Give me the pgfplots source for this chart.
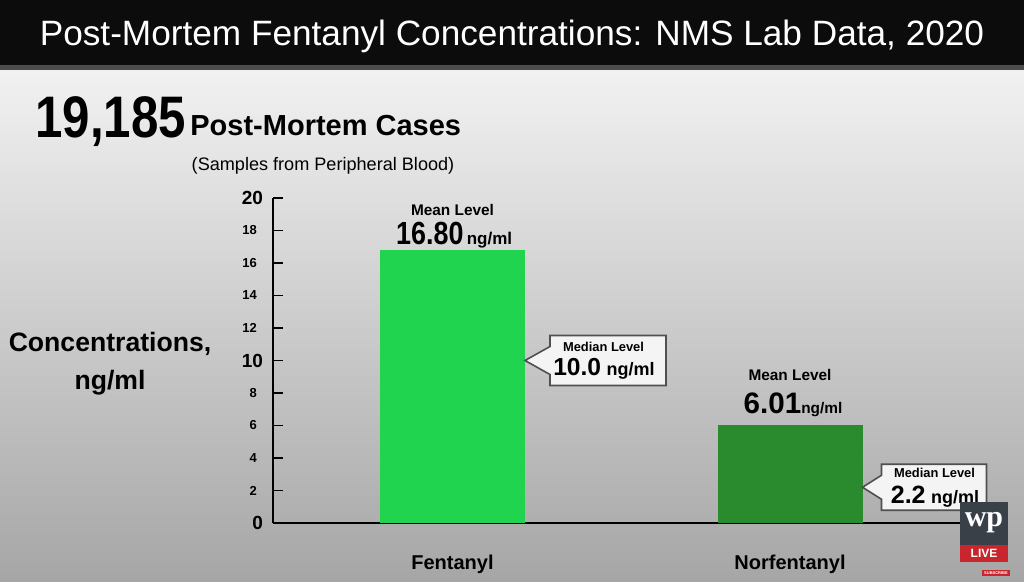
\documentclass[border=0pt]{standalone}
\usepackage{fontspec}
\setmainfont{Liberation Sans}
\newfontfamily\cond[FakeStretch=0.84]{Liberation Sans}
\newfontfamily\wpfont{Liberation Serif}
\usepackage{pgfplots}
\pgfplotsset{compat=1.18}
\definecolor{fentgreen}{RGB}{32,212,80}
\definecolor{norgreen}{RGB}{42,138,46}
\definecolor{bgtop}{RGB}{242,242,242}
\definecolor{bgmid}{RGB}{222,222,222}
\definecolor{bgbot}{RGB}{166,166,166}
\definecolor{titlebg}{RGB}{12,12,12}
\definecolor{boxfill}{RGB}{244,244,244}
\definecolor{boxdraw}{RGB}{80,80,80}
\definecolor{wpgray}{RGB}{58,64,72}
\definecolor{wpred}{RGB}{200,38,44}
\newcommand{\tsp}{\hspace*{3pt}}
\begin{document}
\begin{tikzpicture}
\begin{scope}[x=0.5pt,y=0.5pt]
  \shade[top color=bgtop, middle color=bgmid, bottom color=bgbot] (0,0) rectangle (1024,515);
  \fill[titlebg] (0,515) rectangle (1024,581);
  \fill[gray!60!black] (0,511) rectangle (1024,516);
  \node[white, font=\fontsize{17.6}{19}\selectfont] at (512,545) {Post-Mortem Fentanyl Concentrations: NMS Lab Data, 2020};
  \node[anchor=base west, inner sep=0pt, font=\cond\bfseries\fontsize{29.3}{30}\selectfont] at (35,444) {19,185};
  \node[anchor=base west, inner sep=0pt, font=\bfseries\fontsize{14.5}{16}\selectfont] at (190,446) {Post-Mortem Cases};
  \node[anchor=base, inner sep=0pt, font=\fontsize{9.05}{10}\selectfont] at (323,411) {(Samples from Peripheral Blood)};
  \node[align=center, inner sep=0pt, font=\bfseries\fontsize{13.3}{19}\selectfont] at (110,217) {Concentrations,\\ng/ml};
\end{scope}
\begin{axis}[
  at={(136.5pt,29pt)}, anchor=south west,
  scale only axis, width=366pt, height=162.5pt,
  xmin=-0.5319, xmax=1.637, ymin=0, ymax=20,
  axis lines=left,
  axis line style={line width=1.1pt, -},
  tick align=inside, major tick length=5pt,
  tick style={line width=0.9pt, black},
  ytick={0,2,...,20},
  yticklabels={{\fontsize{9.5}{10}\selectfont 0},2\tsp,4\tsp,6\tsp,8\tsp,{\fontsize{9.5}{10}\selectfont 10},12\tsp,14\tsp,16\tsp,18\tsp,{\fontsize{9.5}{10}\selectfont 20}},
  yticklabel style={font=\bfseries\fontsize{6.5}{7}\selectfont, xshift=-1.5pt},
  xtick={0,1}, xticklabels={Fentanyl,Norfentanyl},
  x tick style={draw=none},
  xticklabel style={font=\bfseries\fontsize{10}{12}\selectfont, yshift=-12.5pt},
  clip=false,
]
\addplot[ybar, bar width=72.5pt, bar shift=0pt, fill=fentgreen, draw=none] coordinates {(0,16.80)};
\addplot[ybar, bar width=72.5pt, bar shift=0pt, fill=norgreen, draw=none] coordinates {(1,6.01)};
\node[anchor=base, inner sep=0pt, font=\bfseries\fontsize{7.7}{8}\selectfont] at (axis cs:0,18.95) {Mean Level};
\node[anchor=base, inner sep=0pt, font=\bfseries] at (axis cs:0.005,17.11) {{\cond\fontsize{16}{16}\selectfont 16.80}\,{\fontsize{8.5}{9}\selectfont ng/ml}};
\node[anchor=base, inner sep=0pt, font=\bfseries\fontsize{7.7}{8}\selectfont] at (axis cs:1.0,8.8) {Mean Level};
\node[anchor=base, inner sep=0pt, font=\bfseries] at (axis cs:1.009,6.75) {{\fontsize{14.8}{15}\selectfont 6.01}{\fontsize{7.7}{8}\selectfont ng/ml}};
\coordinate (m1) at (axis cs:0.2148,10);
\coordinate (m2) at (axis cs:1.2148,2.2);
\end{axis}
\draw[fill=boxfill, draw=boxdraw, line width=0.8pt] (m1) -- ++(12.5pt,7pt) -- ++(0,5.5pt) -- ++(58pt,0) -- ++(0,-25pt) -- ++(-58pt,0) -- ++(0,5.5pt) -- cycle;
\node[anchor=base, inner sep=0pt, font=\bfseries\fontsize{6.45}{7}\selectfont] at ([xshift=39.25pt,yshift=4.65pt]m1) {Median Level};
\node[anchor=base, inner sep=0pt, font=\bfseries] at ([xshift=39.5pt,yshift=-7.35pt]m1) {{\fontsize{12.3}{13}\selectfont 10.0} {\fontsize{9}{9}\selectfont ng/ml}};
\draw[fill=boxfill, draw=boxdraw, line width=0.8pt] (m2) -- ++(9.5pt,6pt) -- ++(0,5.5pt) -- ++(52.5pt,0) -- ++(0,-23pt) -- ++(-52.5pt,0) -- ++(0,5.5pt) -- cycle;
\node[anchor=base, inner sep=0pt, font=\bfseries\fontsize{6.45}{7}\selectfont] at ([xshift=36pt,yshift=4.65pt]m2) {Median Level};
\node[anchor=base, inner sep=0pt, font=\bfseries] at ([xshift=36.25pt,yshift=-8.3pt]m2) {{\fontsize{12.5}{13}\selectfont 2.2} {\fontsize{9}{9}\selectfont ng/ml}};
\begin{scope}[x=0.5pt,y=0.5pt]
  \fill[wpgray] (960,36) rectangle (1008,79);
  \node[white, font=\wpfont\bfseries\fontsize{15}{15}\selectfont] at (984,58) {wp};
  \fill[wpred] (960,19) rectangle (1008,36);
  \node[white, font=\bfseries\fontsize{6}{6}\selectfont] at (984,27.5) {LIVE};
  \fill[wpred] (982,5) rectangle (1010,11);
  \node[white, font=\bfseries\fontsize{2}{2}\selectfont] at (996,8) {SUBSCRIBE};
\end{scope}
\end{tikzpicture}
\end{document}
